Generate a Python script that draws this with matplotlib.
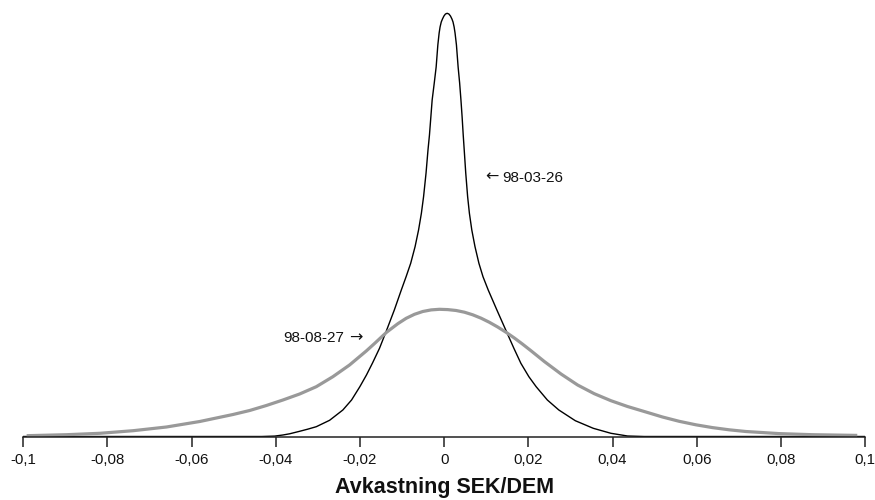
import matplotlib
matplotlib.use("Agg")
import matplotlib.pyplot as plt

# Return densities for the SEK/DEM exchange rate on two dates
x_0326 = [-0.1000, -0.0581, -0.04336, -0.04028, -0.03831, -0.03672, -0.03434, -0.03244,
          -0.03038, -0.02722, -0.02407, -0.02200, -0.02003, -0.01846, -0.01702, -0.01536,
          -0.01365, -0.01184, -0.01018,
          -0.00904, -0.00795, -0.00691, -0.00608, -0.00541, -0.00489, -0.00430, -0.00384,
          -0.00349, -0.00316, -0.00285, -0.00235, -0.00190, -0.00150, -0.00119, -0.00097,
          -0.00069, -0.00040, -0.00005, 0.00031, 0.00071, 0.00112, 0.00150, 0.00185,
          0.00211, 0.00237, 0.00259, 0.00292, 0.00332, 0.00368, 0.00399, 0.00427,
          0.00453, 0.00477, 0.00513, 0.00558, 0.00600, 0.00657, 0.00733, 0.00826,
          0.00923, 0.01047, 0.01253, 0.01474, 0.01657, 0.01823, 0.02013, 0.02186,
          0.02452, 0.02725, 0.03116, 0.03543, 0.03963, 0.04357, 0.04754, 0.1000]
y_0326 = [0.0, 0.0, 0.0, 0.04, 0.15, 0.27, 0.52, 0.73,
          0.98, 1.62, 2.65, 3.65, 4.98, 6.15, 7.35, 8.82,
          10.65, 12.65, 14.65,
          15.98, 17.32, 18.98, 20.65, 22.32, 23.98, 26.35, 28.65,
          30.15, 31.95, 33.65, 35.35, 36.95, 39.15, 40.35, 40.95,
          41.45, 41.75, 42.05, 42.25, 42.32, 42.25, 42.05, 41.75,
          41.45, 40.95, 40.35, 39.15, 36.95, 35.35, 33.65, 31.95,
          30.15, 28.65, 26.35, 23.98, 22.32, 20.65, 18.98, 17.32,
          15.98, 14.65, 12.65, 10.55, 8.82, 7.32, 5.98, 4.98,
          3.65, 2.65, 1.58, 0.82, 0.32, 0.05, 0.0, 0.0]

x_0827 = [-0.09920, -0.08971, -0.08181, -0.07390, -0.06598, -0.05807, -0.05017, -0.04621,
          -0.04224, -0.03831, -0.03434, -0.03038, -0.02644, -0.02248, -0.01851, -0.01654,
          -0.01369, -0.01101, -0.00902, -0.00705, -0.00508, -0.00309, -0.00112, 0.00085,
          0.00285, 0.00482, 0.00679, 0.00878, 0.01075, 0.01272, 0.01471, 0.01668,
          0.01865, 0.02065, 0.02380, 0.02777, 0.03171, 0.03567, 0.03963, 0.04357,
          0.04794, 0.05188, 0.05584, 0.05981, 0.06375, 0.06771, 0.07167, 0.07958,
          0.08748, 0.09816]
y_0827 = [0.08, 0.18, 0.32, 0.58, 0.95, 1.50, 2.20, 2.60,
          3.10, 3.65, 4.25, 4.98, 5.98, 7.15, 8.55, 9.30,
          10.42, 11.28, 11.82, 12.22, 12.50, 12.66, 12.72, 12.69,
          12.60, 12.43, 12.17, 11.83, 11.42, 10.95, 10.42, 9.85,
          9.23, 8.57, 7.50, 6.25, 5.15, 4.28, 3.58, 3.00,
          2.45, 1.95, 1.52, 1.17, 0.89, 0.67, 0.50, 0.29,
          0.18, 0.11]

tick_values = [-0.1, -0.08, -0.06, -0.04, -0.02, 0, 0.02, 0.04, 0.06, 0.08, 0.1]
tick_labels = ["-0,1", "-0,08", "-0,06", "-0,04", "-0,02", "0",
               "0,02", "0,04", "0,06", "0,08", "0,1"]

date_0326 = "98-03-26"
date_0827 = "98-08-27"

plt.rcParams["font.family"] = ["Liberation Sans", "DejaVu Sans"]

fig = plt.figure(figsize=(8.75, 5.0), dpi=100)
ax = fig.add_axes([0.0266, 0.127, 0.962, 0.873])

ax.plot(x_0326, y_0326, color="black", lw=1.0, solid_joinstyle="round", zorder=3)
ax.plot(x_0827, y_0827, color="#999999", lw=2.3, solid_capstyle="butt",
        solid_joinstyle="round", zorder=4)

ax.set_xlim(-0.1, 0.1)
ax.set_ylim(0, 43.65)

for side in ("left", "right", "top"):
    ax.spines[side].set_visible(False)
ax.spines["bottom"].set_color("#222222")
ax.spines["bottom"].set_linewidth(1.1)
ax.spines["bottom"].set_zorder(5)
ax.set_yticks([])
ax.set_xticks(tick_values)
ax.set_xticklabels(tick_labels)
ax.tick_params(axis="x", direction="out", length=7, width=1.1, color="#222222",
               pad=5, labelsize=10.8, labelcolor="#111111")

ax.set_xlabel("Avkastning SEK/DEM", fontsize=15.5, fontweight="bold",
              color="#111111", labelpad=7)

# Date labels with small pointer arrows
ax.text(0.01391, 25.9, date_0326, fontsize=11, ha="left", va="center",
        color="#111111")
ax.text(0.01123, 25.95, "\u2190", fontsize=11.5, ha="center", va="center",
        color="#111111", family="DejaVu Sans")
ax.text(-0.03814, 9.82, date_0827, fontsize=11, ha="left", va="center",
        color="#111111")
ax.text(-0.02093, 9.87, "\u2192", fontsize=11.5, ha="center", va="center",
        color="#111111", family="DejaVu Sans")

fig.savefig("out.png", dpi=100, facecolor="white")
